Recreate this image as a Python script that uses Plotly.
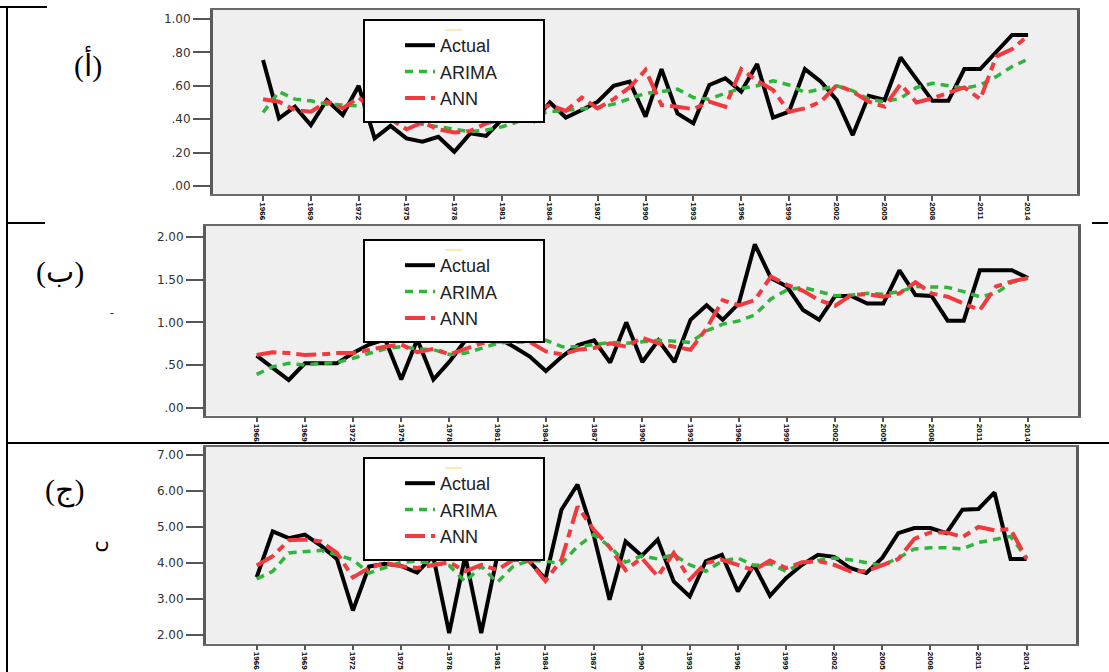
import plotly.graph_objects as go

# ---------------- data ----------------
years = list(range(1966, 2015))
tick_years = list(range(1966, 2015, 3))
tick_year_labels = [str(y) for y in tick_years]

series_names = ["Actual", "ARIMA", "ANN"]
panel_labels = ["(أ)", "(ب)", "(ج)"]

# Panel (a)
a_actual = [0.755, 0.405, 0.475, 0.365, 0.515, 0.425, 0.60, 0.285, 0.36, 0.285,
            0.265, 0.295, 0.205, 0.315, 0.30, 0.40, 0.45, 0.39, 0.50, 0.41,
            0.455, 0.505, 0.60, 0.625, 0.415, 0.70, 0.435, 0.375, 0.605, 0.645,
            0.565, 0.73, 0.41, 0.445, 0.70, 0.625, 0.515, 0.305, 0.54, 0.515,
            0.77, 0.635, 0.51, 0.51, 0.70, 0.70, 0.80, 0.905, 0.905]
a_arima = [0.44, 0.565, 0.52, 0.51, 0.49, 0.485, 0.48, 0.46, 0.43, 0.40,
           0.37, 0.355, 0.34, 0.325, 0.335, 0.355, 0.385, 0.425, 0.445, 0.455,
           0.46, 0.47, 0.49, 0.525, 0.555, 0.565, 0.58, 0.53, 0.52, 0.555,
           0.585, 0.60, 0.63, 0.605, 0.56, 0.58, 0.60, 0.57, 0.52, 0.505,
           0.525, 0.59, 0.615, 0.60, 0.585, 0.605, 0.655, 0.715, 0.76]
a_ann = [0.52, 0.505, 0.455, 0.445, 0.505, 0.465, 0.53, 0.45, 0.40, 0.34,
         0.38, 0.34, 0.32, 0.33, 0.375, 0.40, 0.42, 0.45, 0.485, 0.45,
         0.53, 0.465, 0.52, 0.59, 0.695, 0.485, 0.475, 0.46, 0.505, 0.475,
         0.70, 0.63, 0.575, 0.445, 0.465, 0.505, 0.605, 0.565, 0.505, 0.475,
         0.61, 0.50, 0.525, 0.56, 0.59, 0.52, 0.775, 0.82, 0.90]

# Panel (b)
b_actual = [0.61, 0.47, 0.325, 0.52, 0.52, 0.52, 0.64, 0.74, 0.80, 0.33,
            0.80, 0.33, 0.54, 0.79, 0.85, 0.82, 0.715, 0.60, 0.43, 0.60,
            0.735, 0.79, 0.53, 1.00, 0.535, 0.79, 0.535, 1.03, 1.20, 1.03,
            1.22, 1.915, 1.52, 1.42, 1.145, 1.03, 1.31, 1.31, 1.22, 1.22,
            1.61, 1.32, 1.31, 1.02, 1.02, 1.61, 1.61, 1.61, 1.52]
b_arima = [0.39, 0.48, 0.52, 0.50, 0.52, 0.53, 0.58, 0.64, 0.69, 0.715,
           0.69, 0.68, 0.625, 0.64, 0.70, 0.755, 0.78, 0.79, 0.79, 0.715,
           0.715, 0.74, 0.765, 0.755, 0.775, 0.79, 0.78, 0.765, 0.90, 0.98,
           1.017, 1.087, 1.275, 1.38, 1.41, 1.36, 1.313, 1.32, 1.34, 1.33,
           1.36, 1.42, 1.42, 1.41, 1.36, 1.30, 1.34, 1.47, 1.52]
b_ann = [0.618, 0.65, 0.64, 0.618, 0.625, 0.64, 0.64, 0.68, 0.715, 0.74,
         0.65, 0.69, 0.625, 0.69, 0.755, 0.78, 0.78, 0.77, 0.66, 0.625,
         0.68, 0.70, 0.755, 0.715, 0.82, 0.755, 0.715, 0.68, 0.93, 1.26,
         1.20, 1.26, 1.536, 1.44, 1.37, 1.26, 1.195, 1.32, 1.33, 1.30,
         1.34, 1.47, 1.34, 1.30, 1.22, 1.145, 1.42, 1.48, 1.52]

# Panel (c)
c_actual = [3.61, 4.88, 4.69, 4.79, 4.48, 4.11, 2.68, 3.90, 3.98, 3.92,
            3.73, 4.20, 2.05, 4.20, 2.05, 4.20, 4.30, 4.05, 3.55, 5.48,
            6.18, 4.79, 2.98, 4.60, 4.20, 4.65, 3.49, 3.07, 4.05, 4.23,
            3.21, 3.95, 3.09, 3.58, 3.95, 4.23, 4.17, 3.86, 3.72, 4.14,
            4.83, 4.97, 4.97, 4.83, 5.48, 5.50, 5.96, 4.11, 4.11]
c_arima = [3.56, 3.77, 4.28, 4.32, 4.35, 4.23, 4.09, 3.72, 3.86, 4.02,
           4.05, 3.98, 3.93, 3.48, 3.91, 3.46, 3.91, 4.07, 4.05, 3.98,
           4.46, 4.79, 4.46, 4.02, 4.20, 4.11, 4.23, 3.95, 3.77, 4.05,
           4.14, 3.93, 3.98, 3.77, 4.00, 4.07, 4.14, 4.09, 4.02, 3.93,
           4.14, 4.39, 4.42, 4.42, 4.39, 4.57, 4.65, 4.74, 4.14]
c_ann = [3.93, 4.19, 4.63, 4.65, 4.60, 4.28, 3.60, 3.86, 4.00, 3.91,
         3.86, 3.95, 4.02, 3.77, 3.95, 3.81, 4.09, 4.05, 3.50, 4.09,
         5.57, 4.93, 4.44, 3.80, 4.14, 3.63, 4.28, 3.54, 4.00, 4.09,
         3.95, 3.80, 4.07, 3.86, 4.02, 4.05, 3.95, 3.77, 3.77, 3.95,
         4.11, 4.67, 4.85, 4.85, 4.72, 5.00, 4.91, 4.94, 4.11]

a_ytick_vals = [0.0, 0.2, 0.4, 0.6, 0.8, 1.0]
a_ytick_text = [".00", ".20", ".40", ".60", ".80", "1.00"]
b_ytick_vals = [0.0, 0.5, 1.0, 1.5, 2.0]
b_ytick_text = [".00", ".50", "1.00", "1.50", "2.00"]
c_ytick_vals = [2, 3, 4, 5, 6, 7]
c_ytick_text = ["2.00", "3.00", "4.00", "5.00", "6.00", "7.00"]

# ---------------- layout helpers ----------------
W, H = 1109, 672


def px(x):
    return x / W


def py(y):
    return 1 - y / H


panels = [
    dict(data=[a_actual, a_arima, a_ann], x0=213, x1=1077, y0=10, y1=194,
         xr=[1962.86, 2017.07], yr=[-0.048, 1.054],
         tv=a_ytick_vals, tt=a_ytick_text, leg_top=27, box=(364, 20, 544, 122),
         lab=(88, 64), legname="legend"),
    dict(data=[b_actual, b_arima, b_ann], x0=206, x1=1078, y0=226, y1=415.5,
         xr=[1962.85, 2017.11], yr=[-0.091, 2.129],
         tv=b_ytick_vals, tt=b_ytick_text, leg_top=247, box=(364, 240, 544, 342),
         lab=(60, 272), legname="legend2"),
    dict(data=[c_actual, c_arima, c_ann], x0=206, x1=1076, y0=446.7, y1=643.5,
         xr=[1962.84, 2017.08], yr=[1.764, 7.23],
         tv=c_ytick_vals, tt=c_ytick_text, leg_top=465, box=(364, 458, 544, 560),
         lab=(64, 490), legname="legend3"),
]

styles = [
    dict(color="#000000", width=4, dash="solid"),
    dict(color="#2fb53c", width=3.5, dash="8px,6px"),
    dict(color="#f03a3f", width=4, dash="20px,6px,8px,6px"),
]

fig = go.Figure()
shapes = []
annotations = []
layout = dict(
    width=W, height=H,
    margin=dict(l=0, r=0, t=0, b=0, autoexpand=False),
    paper_bgcolor="white",
    showlegend=True,
)

for i, p in enumerate(panels):
    sfx = "" if i == 0 else str(i + 1)
    for name, vals, st in zip(series_names, p["data"], styles):
        fig.add_trace(go.Scatter(
            x=years, y=vals, mode="lines", name=name,
            line=dict(color=st["color"], width=st["width"], dash=st["dash"]),
            xaxis="x" + sfx, yaxis="y" + sfx, legend=p["legname"],
            hoverinfo="skip",
        ))
    layout["xaxis" + sfx] = dict(
        domain=[px(p["x0"]), px(p["x1"])], range=p["xr"], anchor="y" + sfx,
        tickmode="array", tickvals=tick_years, ticktext=tick_year_labels,
        tickangle=90, ticks="outside", ticklen=5, tickwidth=2, tickcolor="#555",
        showgrid=False, zeroline=False, automargin=False,
        showline=True, mirror=True, linecolor="#6a6a6a", linewidth=1.5,
        tickfont=dict(family="Liberation Sans", size=8, color="#000", weight="bold"),
    )
    layout["yaxis" + sfx] = dict(
        domain=[py(p["y1"]), py(p["y0"])], range=p["yr"], anchor="x" + sfx,
        tickmode="array", tickvals=p["tv"], ticktext=p["tt"],
        ticks="outside", ticklen=17, tickwidth=1.5, tickcolor="#555",
        showgrid=False, zeroline=False, automargin=False,
        showline=True, mirror=True, linecolor="#5a5a5a", linewidth=3,
        tickfont=dict(family="DejaVu Sans", size=12, color="#333"),
    )
    bx0, by0, bx1, by1 = p["box"]
    shapes.append(dict(type="rect", xref="paper", yref="paper",
                       x0=px(bx0), x1=px(bx1), y0=py(by1), y1=py(by0),
                       fillcolor="white", line=dict(color="black", width=2),
                       layer="above"))
    shapes.append(dict(type="line", xref="paper", yref="paper",
                       x0=px(445), x1=px(462), y0=py(by0 + 10), y1=py(by0 + 10),
                       line=dict(color="#f3d36a", width=1), layer="above"))
    layout[p["legname"]] = dict(
        x=px(400), y=py(p["leg_top"]), xanchor="left", yanchor="top",
        bgcolor="rgba(0,0,0,0)", borderwidth=0, tracegroupgap=0,
        font=dict(family="Liberation Sans, Arial", size=18, color="#222"),
    )
    annotations.append(dict(
        text=panel_labels[i], xref="paper", yref="paper",
        x=px(p["lab"][0]), y=py(p["lab"][1]), showarrow=False,
        xanchor="center", yanchor="middle",
        font=dict(family="Liberation Serif, DejaVu Serif, DejaVu Sans", size=30, color="black"),
    ))

# small stray marks seen in the reference
annotations.append(dict(text="-", xref="paper", yref="paper", x=px(108), y=py(312),
                        showarrow=False, font=dict(size=12, color="#222")))
annotations.append(dict(text="c", xref="paper", yref="paper", x=px(85), y=py(555),
                        showarrow=False, textangle=-90,
                        font=dict(family="DejaVu Sans", size=22, color="black")))

# table-like frame lines
frame = [
    (7, 7, 7, 672, 2),
    (0, 7, 47, 7, 2),
    (7, 223, 45, 223, 2),
    (1092, 223, 1108, 223, 2),
    (7, 443, 1109, 443, 2),
]
for x0, y0, x1, y1, w in frame:
    shapes.append(dict(type="line", xref="paper", yref="paper",
                       x0=px(x0), x1=px(x1), y0=py(y0), y1=py(y1),
                       line=dict(color="black", width=w), layer="above"))

layout["shapes"] = shapes
layout["annotations"] = annotations
fig.update_layout(**layout)
fig.update_layout(plot_bgcolor="#efefef")

fig.write_html("out.html")
